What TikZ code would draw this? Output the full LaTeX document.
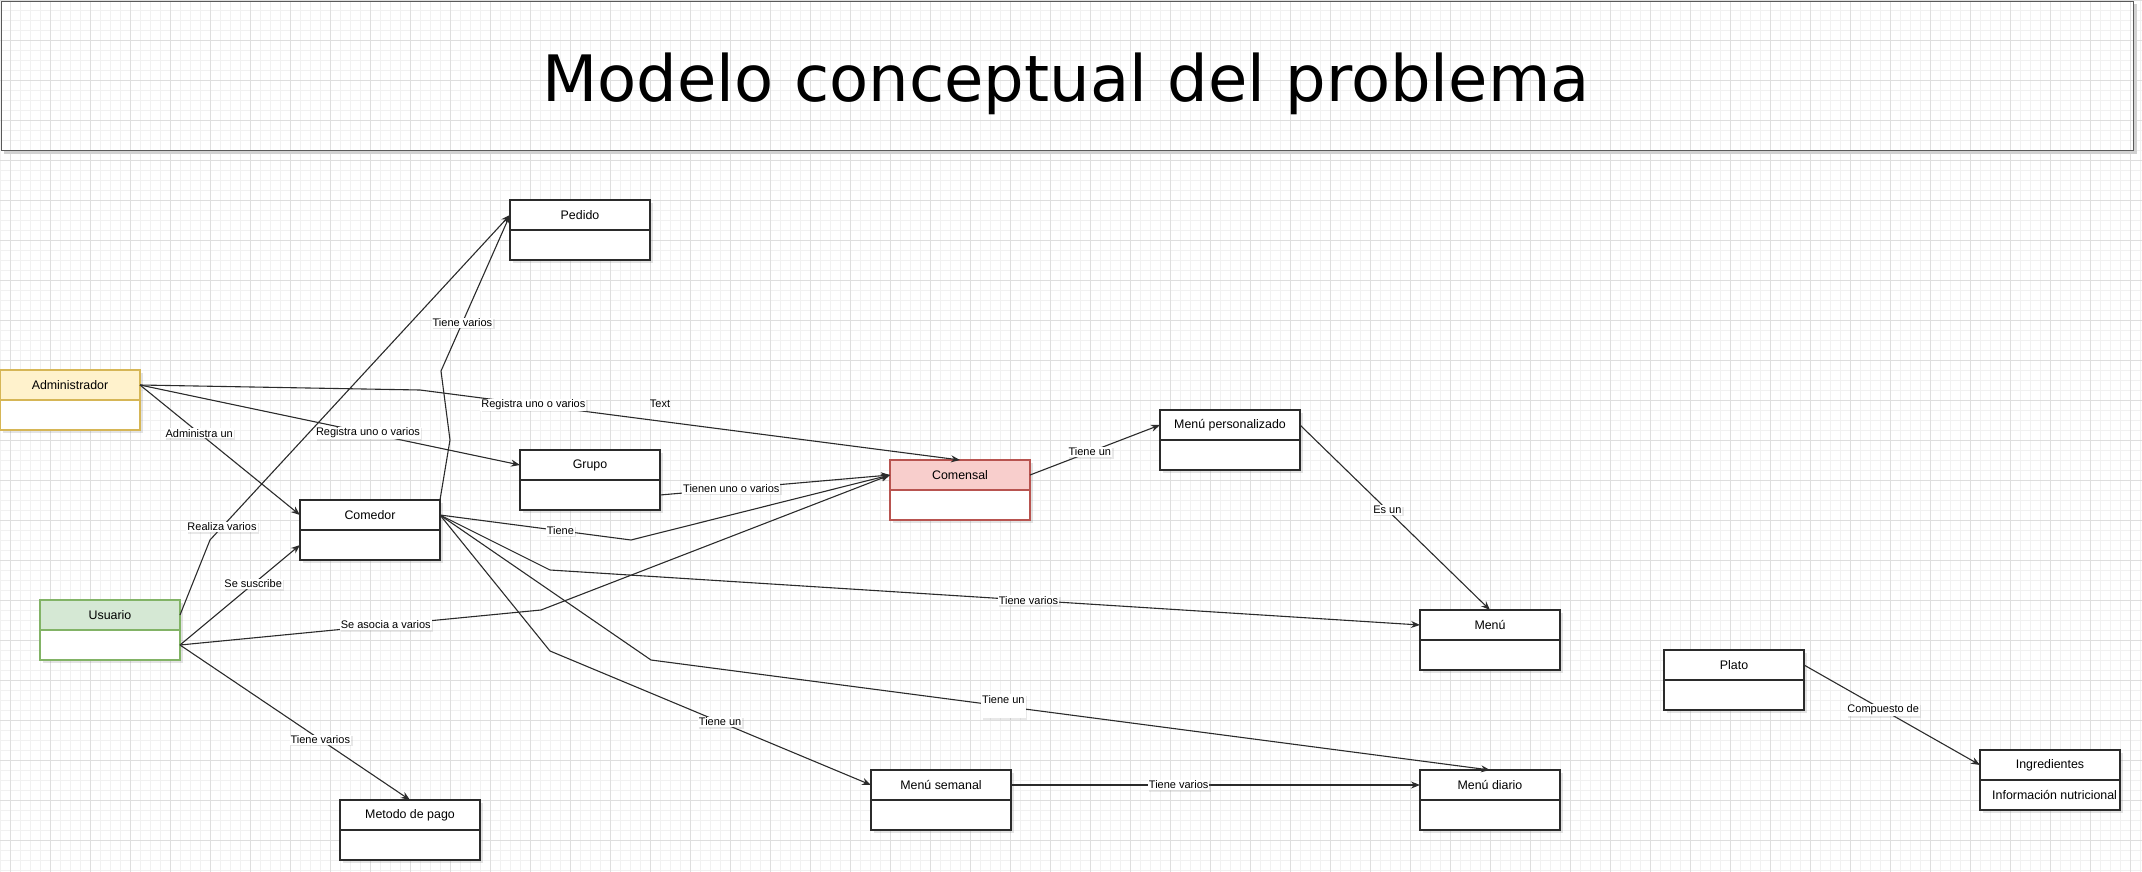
\documentclass[tikz,border=0pt]{standalone}
\usepackage{fontspec}
\setmainfont{Liberation Sans}
\newfontfamily\titlefont{DejaVu Sans}
\usepackage{tikz}
\usetikzlibrary{
  positioning, arrows.meta, shadows,
}
\definecolor{cGridMin}{HTML}{F1F1F1}
\definecolor{cGridMaj}{HTML}{DEDEDE}
\definecolor{cLine}   {HTML}{2B2B2B}
\definecolor{cAdmFill}{HTML}{FFF2CC}
\definecolor{cAdmLine}{HTML}{D6B656}
\definecolor{cUsrFill}{HTML}{D5E8D4}
\definecolor{cUsrLine}{HTML}{82B366}
\definecolor{cComFill}{HTML}{F8CECC}
\definecolor{cComLine}{HTML}{B85450}

\begin{document}
\begin{tikzpicture}[x=1pt, y=-1pt,
    sombra/.style={drop shadow={shadow xshift=2.5pt, shadow yshift=-2.5pt, opacity=0.22}},
    clase/.style={draw=cLine, fill=white, line width=1.2pt, minimum width=140pt,
      minimum height=30pt, inner sep=0pt, outer sep=0pt,
      font=\fontsize{12.4}{14}\selectfont, sombra},
    cuerpo/.style={clase, below=0pt of #1},
    lbl/.style={fill=white, inner sep=1pt, font=\fontsize{11}{13}\selectfont,
      drop shadow={shadow xshift=1.5pt, shadow yshift=-1.5pt, opacity=0.18}},
    link/.style={draw=cLine, line width=1.1pt, -{Stealth[length=9pt, width=7pt]}},
  ]
  \useasboundingbox (0,0) rectangle (2142,872);
  % fondo cuadriculado
  \foreach \gx in {0,10,...,2140} \draw[cGridMin, line width=0.8pt] (\gx,0) -- (\gx,872);
  \foreach \gy in {0,10,...,870} \draw[cGridMin, line width=0.8pt] (0,\gy) -- (2142,\gy);
  \foreach \gx in {10,50,...,2130} \draw[cGridMaj, line width=0.9pt] (\gx,0) -- (\gx,872);
  \foreach \gy in {0,40,...,840} \draw[cGridMaj, line width=0.9pt] (0,\gy) -- (2142,\gy);

  % titulo
  \draw[black!18, line width=2.5pt] (4,152.5) -- (2135.5,152.5) -- (2135.5,4);
  \node[draw=black!65, line width=1.5pt, minimum width=2132pt, minimum height=149pt,
    anchor=north west] (tituloBox) at (0.75,0.75) {};
  \node[font=\titlefont\fontsize{64}{70}\selectfont, anchor=base] (titulo)
    at (1066,102) {Modelo conceptual del problema};

  % clases
  \node[clase, anchor=north west] (pedido) at (510,200) {Pedido};
  \node[cuerpo=pedido] (pedido-b) {};
  \node[clase, anchor=north west, fill=cAdmFill, draw=cAdmLine] (adm) at (0,370) {Administrador};
  \node[cuerpo=adm, draw=cAdmLine] (adm-b) {};
  \node[clase, anchor=north west] (grupo) at (520,450) {Grupo};
  \node[cuerpo=grupo] (grupo-b) {};
  \node[clase, anchor=north west] (comedor) at (300,500) {Comedor};
  \node[cuerpo=comedor] (comedor-b) {};
  \node[clase, anchor=north west, fill=cComFill, draw=cComLine] (comensal) at (890,460) {Comensal};
  \node[cuerpo=comensal, draw=cComLine] (comensal-b) {};
  \node[clase, anchor=north west] (mpers) at (1160,410) {Menú personalizado};
  \node[cuerpo=mpers] (mpers-b) {};
  \node[clase, anchor=north west, fill=cUsrFill, draw=cUsrLine] (usuario) at (40,600) {Usuario};
  \node[cuerpo=usuario, draw=cUsrLine] (usuario-b) {};
  \node[clase, anchor=north west] (menu) at (1420,610) {Menú};
  \node[cuerpo=menu] (menu-b) {};
  \node[clase, anchor=north west] (plato) at (1664,650) {Plato};
  \node[cuerpo=plato] (plato-b) {};
  \node[clase, anchor=north west] (ingred) at (1980,750) {Ingredientes};
  \node[cuerpo=ingred] (ingred-b) {};
  \node[anchor=west, inner sep=0pt, font=\fontsize{12.4}{14}\selectfont] (ingredInfo)
    at (1992,795) {Información nutricional};
  \node[clase, anchor=north west] (msemanal) at (871,770) {Menú semanal};
  \node[cuerpo=msemanal] (msemanal-b) {};
  \node[clase, anchor=north west] (mdiario) at (1420,770) {Menú diario};
  \node[cuerpo=mdiario] (mdiario-b) {};
  \node[clase, anchor=north west] (pago) at (340,800) {Metodo de pago};
  \node[cuerpo=pago] (pago-b) {};

  \node[inner sep=0pt, font=\fontsize{11}{13}\selectfont] (txt) at (660,404) {Text};

  % relaciones
  \draw[link] (adm.east) -- (420,390) -- node[lbl, pos=.21] {Registra uno o varios} (comensal.north);
  \draw[link] (adm.east) -- node[lbl, pos=.6] {Registra uno o varios} (grupo.west);
  \draw[link] (adm.east) -- node[lbl, pos=.37] {Administra un} (comedor.west);
  \draw[link] (usuario.east) -- (210,540) -- node[lbl, pos=.04] {Realiza varios} (pedido.west);
  \draw[link] (comedor.north east) -- (450,440) -- (441,371) -- node[lbl, pos=.31] {Tiene varios} (pedido.west);
  \draw[link] (grupo-b.east) -- node[lbl, pos=.31] {Tienen uno o varios} (comensal.west);
  \draw[link] (comedor.east) -- node[lbl, pos=.63] {Tiene} (631,540) -- (comensal.west);
  \draw[link] (usuario-b.east) -- node[lbl, pos=.57] {Se asocia a varios} (541,610) -- (comensal.west);
  \draw[link] (comedor.east) -- (550,570) -- node[lbl, pos=.55] {Tiene varios} (menu.west);
  \draw[link] (comedor.east) -- (651,660) -- node[lbl, pos=.42, text depth=14pt] {Tiene un} (mdiario.north);
  \draw[link] (comedor.east) -- (550,651) -- node[lbl, pos=.53] {Tiene un} (msemanal.west);
  \draw[link] (usuario-b.east) -- node[lbl, pos=.61] {Se suscribe} (comedor-b.west);
  \draw[link] (usuario-b.east) -- node[lbl, pos=.61] {Tiene varios} (pago.north);
  \draw[link] (comensal.east) -- node[lbl, pos=.46] {Tiene un} (mpers.west);
  \draw[link] (mpers.east) -- node[lbl, pos=.46] {Es un} (menu.north);
  \draw[link] (msemanal.east) -- node[lbl, pos=.41] {Tiene varios} (mdiario.west);
  \draw[link] (plato.east) -- node[lbl, pos=.45] {Compuesto de} (ingred.west);
\end{tikzpicture}
\end{document}
